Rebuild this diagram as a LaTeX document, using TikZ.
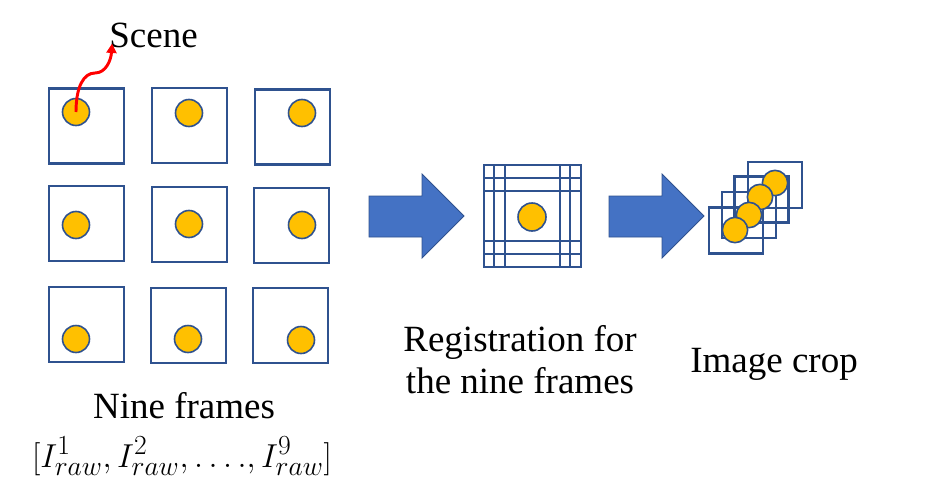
\documentclass[tikz,border=0pt]{standalone}
\usepackage{fontspec}
\setmainfont{Liberation Serif}
\usepackage{tikz}
\usetikzlibrary{arrows.meta, positioning}

\definecolor{frameblue}{HTML}{2F528F}
\definecolor{arrowblue}{HTML}{4472C4}
\definecolor{spotyellow}{HTML}{FFC000}

\begin{document}
\begin{tikzpicture}[
        x=0.75pt, y=-0.75pt,
        frame/.style={
            rectangle,
            draw=frameblue,
            line width=1.9pt,
            minimum size=56.25pt,
            inner sep=0pt
        },
        regframe/.style={
            frame,
            line width=1.6pt,
            minimum size=57pt
        },
        cropframe/.style={
            frame,
            line width=1.6pt,
            minimum width=40.5pt,
            minimum height=34.5pt
        },
        spot/.style={
            circle,
            draw=frameblue,
            fill=spotyellow,
            line width=1.2pt,
            minimum size=20.25pt,
            inner sep=0pt
        },
        cropspot/.style={spot, minimum size=19pt},
        label/.style={
            inner sep=0pt,
            anchor=base,
            align=center,
            font=\fontsize{27.75}{31.5}\selectfont
        },
        bigarrow/.style={fill=arrowblue, draw=frameblue, line width=0.6pt},
        scenearrow/.style={-{Triangle[length=7pt, width=7.5pt]}, draw=red, line width=2.2pt}
    ]

    \useasboundingbox (0,0) rectangle (931,496);

    % nine frames
    \node (f1) [frame] at (86.5,126) {};
    \node (f2) [frame] at (189.5,125.5) {};
    \node (f3) [frame] at (292.5,127) {};
    \node (f4) [frame] at (86.5,223.5) {};
    \node (f5) [frame] at (189.5,224.5) {};
    \node (f6) [frame] at (291.5,225.5) {};
    \node (f7) [frame] at (86.5,324.5) {};
    \node (f8) [frame] at (188.5,325.5) {};
    \node (f9) [frame] at (290.5,325.5) {};

    \node (s1) [spot] at (76,112) {};
    \node (s2) [spot] at (189,113) {};
    \node (s3) [spot] at (302,113) {};
    \node (s4) [spot] at (76,225) {};
    \node (s5) [spot] at (189,224) {};
    \node (s6) [spot] at (302,225) {};
    \node (s7) [spot] at (76,339) {};
    \node (s8) [spot] at (188,339) {};
    \node (s9) [spot] at (301,340) {};

    \node (scene) [label] at (153.5,47) {Scene};
    \draw [scenearrow] (s1.center) .. controls (76,86) and (84,73) .. (95,73)
        .. controls (106,73) and (111,60) .. ([shift={(3,-4)}]scene.south west);

    % registration
    \draw [bigarrow] (369,196) -- (422,196) -- (422,174) -- (464,216) -- (422,258) -- (422,237) -- (369,237) -- cycle;

    \node (r1) [regframe] at (522,203) {};
    \node (r2) [regframe] at (532,203) {};
    \node (r3) [regframe] at (543,203) {};
    \node (r4) [regframe] at (522,216) {};
    \node (r5) [regframe] at (532,216) {};
    \node (r6) [regframe] at (543,216) {};
    \node (r7) [regframe] at (522,229) {};
    \node (r8) [regframe] at (532,229) {};
    \node (r9) [regframe] at (543,229) {};
    \node (regspot) [spot, minimum size=21pt] at (532,217) {};

    % image crop
    \draw [bigarrow] (609,196) -- (662,196) -- (662,174) -- (704,216) -- (662,258) -- (662,237) -- (609,237) -- cycle;

    \node (c4) [cropframe] at (775,185) {};
    \node (c3) [cropframe] at (761.5,199.5) {};
    \node (c2) [cropframe] at (749,215) {};
    \node (c1) [cropframe] at (736,230.5) {};
    \node (p4) [cropspot] at (775,183) {};
    \node (p3) [cropspot] at (760,197) {};
    \node (p2) [cropspot] at (749,215) {};
    \node (p1) [cropspot] at (735,230) {};

    % captions
    \node (nine) [label] at (184,418) {Nine frames};
    \node (raw) [label] at (182,467) {$[I_{raw}^1,I_{raw}^2,\ldots.,I_{raw}^9]$};
    \node (reg) [label] at (520,393) {Registration for\\the nine frames};
    \node (crop) [label] at (774,372) {Image crop};

    \end{tikzpicture}
\end{document}
